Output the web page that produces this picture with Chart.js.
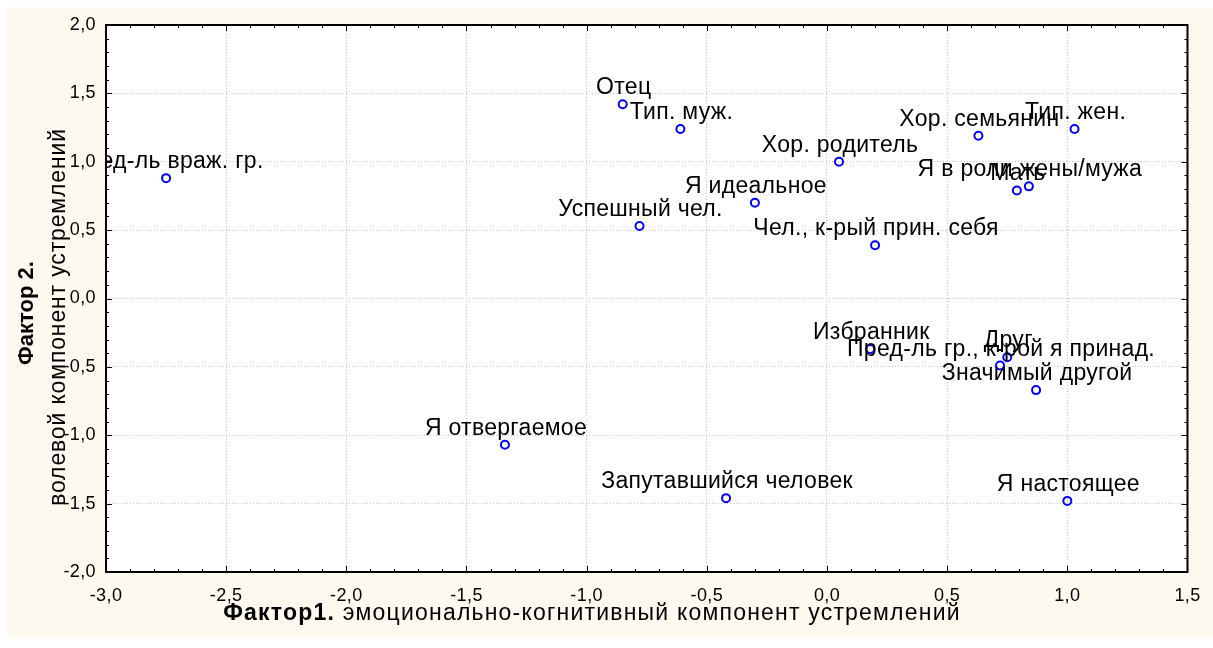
<!DOCTYPE html>
<html>
<head>
<meta charset="utf-8">
<script src="https://cdn.jsdelivr.net/npm/chart.js@4.4.1/dist/chart.umd.min.js"></script>
<style>
  html, body { margin: 0; padding: 0; background: #fff; }
  #c { display: block; }
</style>
</head>
<body>
<canvas id="c" width="1213" height="648"></canvas>
<script>
// point names and factor scores
var names = ["Пред-ль враж. гр.", "Отец", "Тип. муж.", "Хор. родитель", "Я идеальное",
  "Успешный чел.", "Чел., к-рый прин. себя", "Хор. семьянин", "Тип. жен.", "Мать",
  "Я в роли жены/мужа", "Избранник", "Пред-ль гр., к-рой я принад.", "Друг",
  "Значимый другой", "Я настоящее", "Запутавшийся человек", "Я отвергаемое"];
var factor1 = [-2.75, -0.85, -0.61, 0.05, -0.30, -0.78, 0.20, 0.63, 1.03, 0.79,
  0.84, 0.18, 0.72, 0.75, 0.87, 1.00, -0.42, -1.34];
var factor2 = [0.88, 1.42, 1.24, 1.00, 0.70, 0.53, 0.39, 1.19, 1.24, 0.79,
  0.82, -0.37, -0.49, -0.43, -0.67, -1.48, -1.46, -1.07];

// tick labels
var xTicks = [-3.0, -2.5, -2.0, -1.5, -1.0, -0.5, 0.0, 0.5, 1.0, 1.5];
var yTicks = [-2.0, -1.5, -1.0, -0.5, 0.0, 0.5, 1.0, 1.5, 2.0];

var points = [];
for (var i = 0; i < names.length; i++) {
  points.push({x: factor1[i], y: factor2[i]});
}

var FONT = '"Liberation Sans", Arial, sans-serif';

function fmt(v) {
  return v.toFixed(1).replace('.', ',');
}

// cream background + letter spacing for tick labels
var background = {
  id: 'background',
  beforeDraw: function(chart) {
    var ctx = chart.ctx;
    ctx.save();
    ctx.fillStyle = '#fff';
    ctx.fillRect(0, 0, chart.width, chart.height);
    ctx.fillStyle = '#fdf9ee';
    ctx.fillRect(7, 7, chart.width - 7, 631);
    var a = chart.chartArea;
    ctx.fillStyle = '#fff';
    ctx.fillRect(a.left, a.top, a.right - a.left, a.bottom - a.top);
    ctx.restore();
    ctx.letterSpacing = '0.4px';
  },
  beforeDatasetsDraw: function(chart) {
    chart.ctx.letterSpacing = '0px';
  }
};

// names above the points, clipped to the plot
var pointLabels = {
  id: 'pointLabels',
  afterDatasetsDraw: function(chart) {
    var ctx = chart.ctx;
    var a = chart.chartArea;
    var meta = chart.getDatasetMeta(0);
    ctx.save();
    ctx.beginPath();
    ctx.rect(a.left, a.top, a.right - a.left, a.bottom - a.top);
    ctx.clip();
    ctx.font = '23px ' + FONT;
    ctx.letterSpacing = '0.3px';
    ctx.fillStyle = '#000';
    ctx.textAlign = 'center';
    ctx.textBaseline = 'alphabetic';
    meta.data.forEach(function(pt, i) {
      ctx.fillText(names[i], pt.x + 1, pt.y - 10);
    });
    ctx.restore();
  }
};

// draws bold + normal text run centered at 0
function mixedText(ctx, boldPart, normalPart, size, spacing) {
  ctx.letterSpacing = spacing;
  ctx.font = 'bold ' + size + 'px ' + FONT;
  var w1 = ctx.measureText(boldPart).width;
  ctx.font = size + 'px ' + FONT;
  var w2 = ctx.measureText(normalPart).width;
  var x0 = -(w1 + w2) / 2;
  ctx.textAlign = 'left';
  ctx.font = 'bold ' + size + 'px ' + FONT;
  ctx.fillText(boldPart, x0, 0);
  ctx.font = size + 'px ' + FONT;
  ctx.fillText(normalPart, x0 + w1, 0);
}

// frame, inner tick marks, axis titles
var frame = {
  id: 'frame',
  afterDraw: function(chart) {
    var ctx = chart.ctx;
    var a = chart.chartArea;
    var xs = chart.scales.x, ys = chart.scales.y;
    ctx.save();
    ctx.strokeStyle = '#000';
    ctx.lineWidth = 1;
    ctx.beginPath();
    var v, p, len;
    for (v = -30; v <= 15; v++) {
      p = Math.round(xs.getPixelForValue(v / 10)) + 0.5;
      len = (v % 5 === 0) ? 6 : 3;
      ctx.moveTo(p, a.bottom); ctx.lineTo(p, a.bottom - len);
      ctx.moveTo(p, a.top); ctx.lineTo(p, a.top + len);
    }
    for (v = -20; v <= 20; v++) {
      p = Math.round(ys.getPixelForValue(v / 10)) + 0.5;
      len = (v % 5 === 0) ? 6 : 3;
      ctx.moveTo(a.left, p); ctx.lineTo(a.left + len, p);
      ctx.moveTo(a.right, p); ctx.lineTo(a.right - len, p);
    }
    ctx.stroke();
    ctx.lineWidth = 2;
    ctx.strokeRect(a.left, a.top, a.right - a.left, a.bottom - a.top);

    ctx.fillStyle = '#000';
    ctx.textBaseline = 'alphabetic';
    // x title
    ctx.save();
    ctx.translate(592, 620);
    mixedText(ctx, 'Фактор1.', ' эмоционально-когнитивный компонент устремлений', 23, '1.2px');
    ctx.restore();
    // y title, two lines
    ctx.save();
    ctx.translate(33, 313);
    ctx.rotate(-Math.PI / 2);
    mixedText(ctx, 'Фактор 2.', '', 22, '0px');
    ctx.restore();
    ctx.save();
    ctx.translate(65, 317);
    ctx.rotate(-Math.PI / 2);
    mixedText(ctx, '', 'волевой компонент устремлений', 23, '0.85px');
    ctx.restore();
    ctx.restore();
  }
};

new Chart(document.getElementById('c'), {
  type: 'scatter',
  data: {
    datasets: [{
      data: points,
      pointRadius: 4,
      pointHoverRadius: 4,
      pointBorderWidth: 2,
      pointBorderColor: '#0000ff',
      pointBackgroundColor: 'rgba(0,0,0,0)'
    }]
  },
  options: {
    responsive: false,
    animation: false,
    devicePixelRatio: 1,
    layout: { padding: { left: 0, top: 25, right: 25, bottom: 0 } },
    plugins: {
      legend: { display: false },
      tooltip: { enabled: false }
    },
    scales: {
      x: {
        type: 'linear',
        min: -3,
        max: 1.5,
        afterBuildTicks: function(s) { s.ticks = xTicks.map(function(v) { return {value: v}; }); },
        afterFit: function(s) { s.height = 76; },
        ticks: {
          autoSkip: false,
          maxRotation: 0,
          padding: 13,
          color: '#000',
          font: { family: FONT, size: 18 },
          callback: function(v) { return fmt(v); }
        },
        grid: { color: '#c4c4c4', lineWidth: 1, drawTicks: false },
        border: { display: false, dash: [1, 2] }
      },
      y: {
        type: 'linear',
        min: -2,
        max: 2,
        afterBuildTicks: function(s) { s.ticks = yTicks.map(function(v) { return {value: v}; }); },
        afterFit: function(s) { s.width = 106; },
        ticks: {
          autoSkip: false,
          padding: 10,
          color: '#000',
          font: { family: FONT, size: 18 },
          callback: function(v) { return fmt(v); }
        },
        grid: { color: '#c4c4c4', lineWidth: 1, drawTicks: false },
        border: { display: false, dash: [1, 2] }
      }
    }
  },
  plugins: [background, pointLabels, frame]
});
</script>
</body>
</html>
